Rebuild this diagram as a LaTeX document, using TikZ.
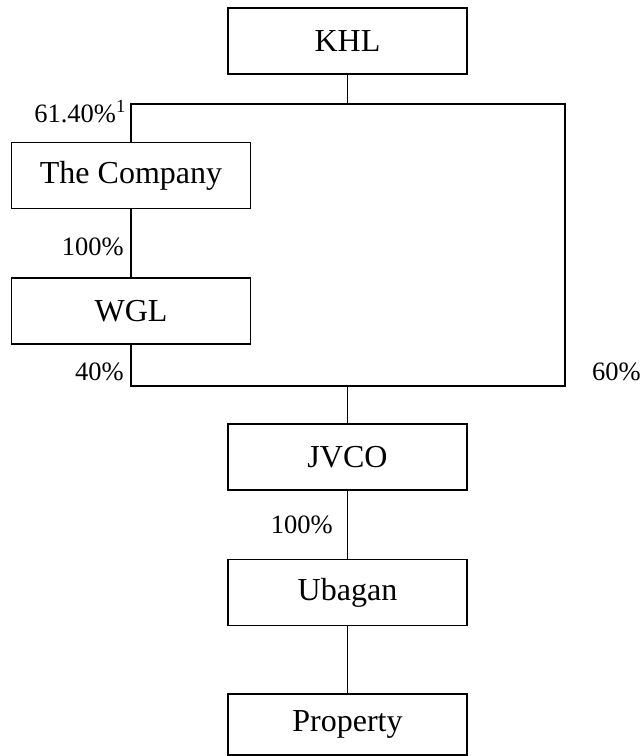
\documentclass[tikz,border=0pt]{standalone}
\usepackage{fontspec}
\setmainfont{Liberation Serif}
\begin{document}
\begin{tikzpicture}[x=1pt,y=-1pt,
  box/.style={draw, line width=1.2pt, minimum width=239pt, minimum height=66pt, inner sep=0pt, font=\fontsize{32}{36}\selectfont},
  pct/.style={inner sep=0pt, font=\fontsize{26.5}{30}\selectfont},
  conn/.style={line width=1.1pt}]
\useasboundingbox (0,0) rectangle (642,756);
\node[box] (KHL) at (347.5,41) {KHL};
\node[box] (Company) at (131,175.5) {The Company};
\node[box] (WGL) at (131,311) {WGL};
\node[box] (JVCO) at (347.5,457) {JVCO};
\node[box] (Ubagan) at (347.5,592.5) {Ubagan};
\node[box, minimum height=61pt] (Property) at (347.5,724.5) {Property};
\coordinate (tm) at (347.5,104);
\coordinate (tl) at (131,104);
\coordinate (tr) at (565,104);
\coordinate (bl) at (131,386);
\coordinate (br) at (565,386);
\coordinate (bm) at (347.5,386);
\draw[conn] (KHL.south) -- (tm);
\draw[conn] (Company.north) -- (tl) -- (tr) -- (br) -- (bl) -- (WGL.south);
\draw[conn] (Company.south) -- (WGL.north);
\draw[conn] (bm) -- (JVCO.north);
\draw[conn] (JVCO.south) -- (Ubagan.north);
\draw[conn] (Ubagan.south) -- (Property.north);
\node[pct, anchor=base east] (l1) at (126,122) {61.40\%\textsuperscript{1}};
\node[pct, anchor=base east] (l2) at (124,255) {100\%};
\node[pct, anchor=base east] (l3) at (124,380) {40\%};
\node[pct, anchor=base west] (l4) at (592,380) {60\%};
\node[pct, anchor=base east] (l5) at (333,533) {100\%};
\end{tikzpicture}
\end{document}
